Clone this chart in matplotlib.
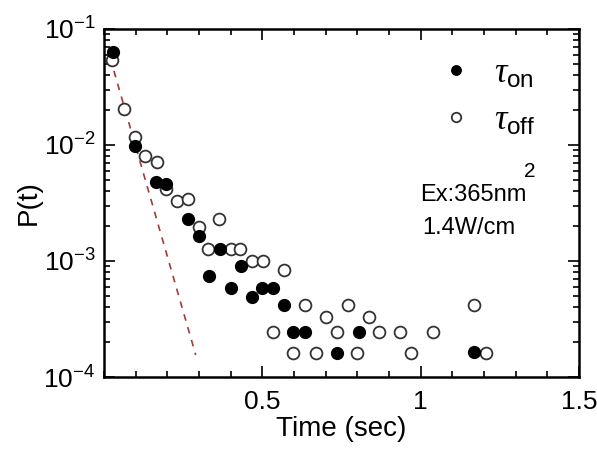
import numpy as np
import matplotlib
matplotlib.use('Agg')
import matplotlib.pyplot as plt
from matplotlib.ticker import LogLocator, MultipleLocator, NullFormatter

plt.rcParams['font.family'] = ['Liberation Sans', 'DejaVu Sans']
plt.rcParams['mathtext.fontset'] = 'custom'
plt.rcParams['mathtext.rm'] = 'Liberation Sans'
plt.rcParams['mathtext.it'] = 'Liberation Serif:italic'

# tau_on (filled)
t_on = [0.03, 0.098, 0.165, 0.196, 0.266, 0.30, 0.367, 0.333, 0.40, 0.433,
        0.468, 0.50, 0.535, 0.567, 0.598, 0.636, 0.737, 0.804, 1.168]
p_on = [0.063, 0.0098, 0.0048, 0.0046, 0.0023, 0.00164, 0.00127, 0.00074,
        0.00058, 0.00091, 0.00049, 0.00058, 0.00058, 0.00042, 0.000245,
        0.000245, 0.000161, 0.000245, 0.000164]

# tau_off (open)
t_off = [0.025, 0.063, 0.098, 0.13, 0.168, 0.196, 0.231, 0.266, 0.30, 0.364,
         0.33, 0.40, 0.43, 0.468, 0.503, 0.567, 0.534, 0.598, 0.636, 0.67,
         0.70, 0.737, 0.769, 0.80, 0.836, 0.867, 0.934, 0.97, 1.038, 1.168,
         1.206]
p_off = [0.054, 0.0204, 0.0117, 0.0080, 0.0071, 0.0042, 0.0033, 0.0034,
         0.00196, 0.0023, 0.00127, 0.00127, 0.00127, 0.0010, 0.0010, 0.00084,
         0.000245, 0.000161, 0.00042, 0.000161, 0.00033, 0.000245, 0.00042,
         0.000161, 0.00033, 0.000245, 0.000245, 0.000161, 0.000245, 0.00042,
         0.000161]

# exponential fit (straight on semilog axes)
fit_t = [0.02, 0.29]
fit_p = [0.056, 1.55e-4]

fig = plt.figure(figsize=(5.97, 4.5), dpi=100)
ax = fig.add_axes([0.174, 0.162, 0.796, 0.774])

ax.plot(fit_t, fit_p, '--', color='#a33a3a', lw=1.2, dashes=(4, 4), zorder=1)
ax.plot(t_off, p_off, 'o', mfc='white', mec='#333333', mew=1.3, ms=8.5,
        ls='none', label=r'$\tau_{\rm off}$', zorder=2)
ax.plot(t_on, p_on, 'o', mfc='black', mec='black', ms=8.5, ls='none',
        label=r'$\tau_{\rm on}$', zorder=3)

ax.set_yscale('log')
ax.set_xlim(0, 1.5)
ax.set_ylim(1e-4, 1e-1)
ax.xaxis.set_minor_locator(MultipleLocator(0.1))
ax.set_xticks([0.5, 1.0, 1.5])
ax.set_xticklabels(['0.5', '1', '1.5'])
ax.yaxis.set_major_locator(LogLocator(base=10, numticks=10))
ax.yaxis.set_minor_locator(LogLocator(base=10, subs=np.arange(2, 10), numticks=10))
ax.yaxis.set_minor_formatter(NullFormatter())

ax.tick_params(which='both', direction='in', top=True, right=True,
               labelsize=19, width=1.2)
ax.tick_params(which='major', length=8, pad=6)
ax.tick_params(which='minor', length=4)
ax.tick_params(axis='x', which='major', pad=9)
for s in ax.spines.values():
    s.set_linewidth(1.8)

ax.set_xlabel('Time (sec)', fontsize=20, labelpad=2)
ax.set_ylabel('P(t)', fontsize=20, labelpad=1)

h, l = ax.get_legend_handles_labels()
ax.legend(h[::-1], l[::-1], loc='upper right', bbox_to_anchor=(0.975, 1.01),
          frameon=False, fontsize=25, markerscale=0.8, handletextpad=0.6,
          labelspacing=0.4, handlelength=1.0)

ax.text(0.665, 0.505, 'Ex:365nm', transform=ax.transAxes, fontsize=17)
ax.text(0.885, 0.575, '2', transform=ax.transAxes, fontsize=15)
ax.text(0.67, 0.41, '1.4W/cm', transform=ax.transAxes, fontsize=17)

fig.savefig('out.png', dpi=100)
